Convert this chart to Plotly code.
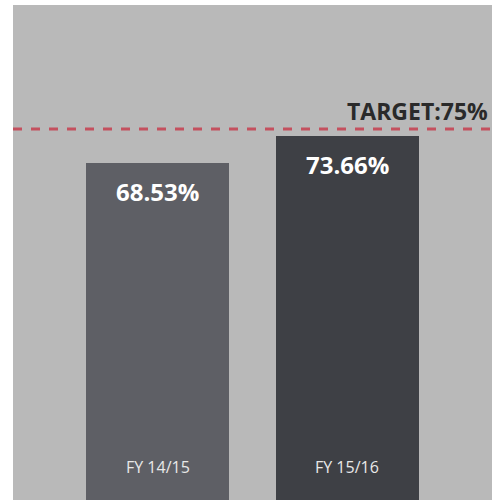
import plotly.graph_objects as go

categories = ["FY 14/15", "FY 15/16"]
values = [68.53, 73.66]
value_labels = ["68.53%", "73.66%"]
target = 75
target_label = "TARGET:75%"
bar_colors = ["#5e5f65", "#3e4045"]

fig = go.Figure()
fig.add_trace(go.Bar(
    x=[0, 1], y=values, width=0.755,
    marker=dict(color=bar_colors, line=dict(width=0)),
    hoverinfo="skip",
))

fig.add_shape(type="line", xref="paper", x0=0, x1=1, yref="y", y0=target, y1=target,
              line=dict(color="#c4505e", width=3, dash="dash"))

annotations = []
for i, (v, t) in enumerate(zip(values, value_labels)):
    annotations.append(dict(x=i, y=v, xref="x", yref="y", text="<b>%s</b>" % t,
                            showarrow=False, yanchor="top", yshift=-10,
                            font=dict(family="Open Sans", size=24, color="white")))
    annotations.append(dict(x=i, y=0, xref="x", yref="paper", text=categories[i],
                            showarrow=False, yanchor="bottom", yshift=20,
                            font=dict(family="Open Sans", size=16, color="#e8e8e8")))
annotations.append(dict(x=1, xref="paper", xanchor="right", y=target, yref="y",
                        text="<b>%s</b>" % target_label, showarrow=False, yanchor="bottom",
                        yshift=0, xshift=-2,
                        font=dict(family="Open Sans", size=23, color="#2a2a2a")))

fig.update_layout(
    width=504, height=500,
    margin=dict(l=13, r=12, t=5, b=0),
    paper_bgcolor="white", plot_bgcolor="#b9b9b9",
    showlegend=False, annotations=annotations,
    xaxis=dict(range=[-0.765, 1.763], showticklabels=False, showgrid=False, zeroline=False),
    yaxis=dict(range=[4.4, 98.6], showticklabels=False, showgrid=False, zeroline=False),
    bargap=0,
)

fig.write_html("out.html", config={"displayModeBar": False},
               post_script="document.body.style.margin='0px';")
